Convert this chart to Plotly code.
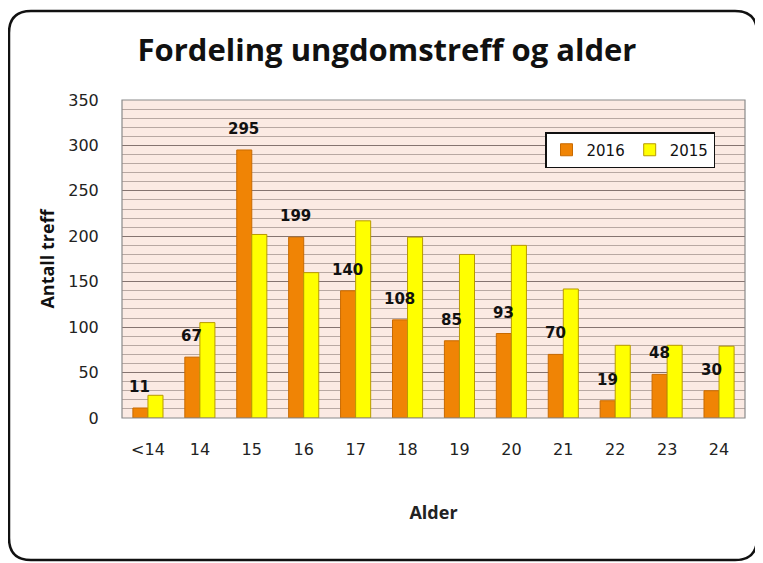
import plotly.graph_objects as go

categories = ["<14", "14", "15", "16", "17", "18", "19", "20", "21", "22", "23", "24"]
values_2016 = [11, 67, 295, 199, 140, 108, 85, 93, 70, 19, 48, 30]
values_2015 = [25, 105, 202, 160, 217, 199, 180, 190, 142, 80, 80, 79]

OFF = 8  # page body margin
W, H = 763 - OFF, 563 - OFF
L, R, T, B = 122 - OFF, 745 - OFF, 100 - OFF, 418 - OFF  # plot area in figure px
FONT = "Open Sans"
TFONT = "DejaVu Sans"

def px(x):
    return (x - OFF - L) / (R - L)

def py(y):
    return (B - (y - OFF)) / (B - T)

fig = go.Figure()
fig.add_trace(go.Bar(
    name="2016", x=categories, y=values_2016,
    marker=dict(color="#F08405", line=dict(color="#C86A00", width=1)),
))
fig.add_trace(go.Bar(
    name="2015", x=categories, y=values_2015,
    marker=dict(color="#FFFF00", line=dict(color="#B89A00", width=1)),
))

# data labels above 2016 bars
for i, v in enumerate(values_2016):
    fig.add_annotation(x=i, y=v, text=f"<b>{v}</b>", showarrow=False,
                       xref="x", yref="y", yanchor="bottom", xshift=-8, yshift=10,
                       font=dict(family=TFONT, size=15, color="#111111"))

# rounded outer frame
x0, x1, y0, y1, r = px(9), px(757), py(11), py(560), 22
rx = r / (R - L)
ry = r / (B - T)
path = (f"M {x0+rx},{y0} L {x1-rx},{y0} Q {x1},{y0} {x1},{y0-ry} "
        f"L {x1},{y1+ry} Q {x1},{y1} {x1-rx},{y1} "
        f"L {x0+rx},{y1} Q {x0},{y1} {x0},{y1+ry} "
        f"L {x0},{y0-ry} Q {x0},{y0} {x0+rx},{y0} Z")
fig.add_shape(type="path", path=path, xref="paper", yref="paper",
              line=dict(color="#111111", width=2.5), layer="above")
# plot area border
fig.add_shape(type="rect", xref="paper", yref="paper", x0=0, x1=1, y0=0, y1=1,
              line=dict(color="#8A8A8A", width=1.2), layer="above")

fig.update_layout(
    width=W, height=H,
    margin=dict(l=L, r=W - R, t=T, b=H - B),
    paper_bgcolor="white",
    plot_bgcolor="#FBEAE3",
    barmode="group",
    bargap=0.42,
    bargroupgap=0,
    title=dict(text="<b>Fordeling ungdomstreff og alder</b>",
               x=(387 - OFF) / W, xanchor="center", y=1 - (50 - OFF) / H, yanchor="middle",
               font=dict(family=FONT, size=31, color="#111111")),
    font=dict(family=TFONT, size=16, color="#222222"),
    showlegend=True,
    legend=dict(orientation="h", x=px(545), y=py(132), xanchor="left", yanchor="top",
                bgcolor="white", bordercolor="#111111", borderwidth=1.5,
                font=dict(family=TFONT, size=15, color="#111111"),
                itemwidth=30, traceorder="normal"),
    xaxis=dict(type="category",
               title=dict(text="<b>Alder</b>", standoff=48,
                          font=dict(family=FONT, size=18, color="#222222")),
               showgrid=False, showline=False, ticks="outside", ticklen=17,
               tickcolor="rgba(0,0,0,0)",
               tickfont=dict(family=TFONT, size=16, color="#222222")),
    yaxis=dict(title=dict(text="<b>Antall treff</b>", standoff=8,
                          font=dict(family=FONT, size=18, color="#111111")),
               range=[0, 350], dtick=50, tick0=0,
               showgrid=True, gridcolor="#857470", gridwidth=1,
               zeroline=False, showline=False,
               ticks="outside", ticklen=19, tickcolor="rgba(0,0,0,0)",
               tickfont=dict(family=TFONT, size=16, color="#222222"),
               minor=dict(dtick=10, showgrid=True, gridcolor="#B8A8A2", gridwidth=1)),
)

fig.write_html("out.html")
